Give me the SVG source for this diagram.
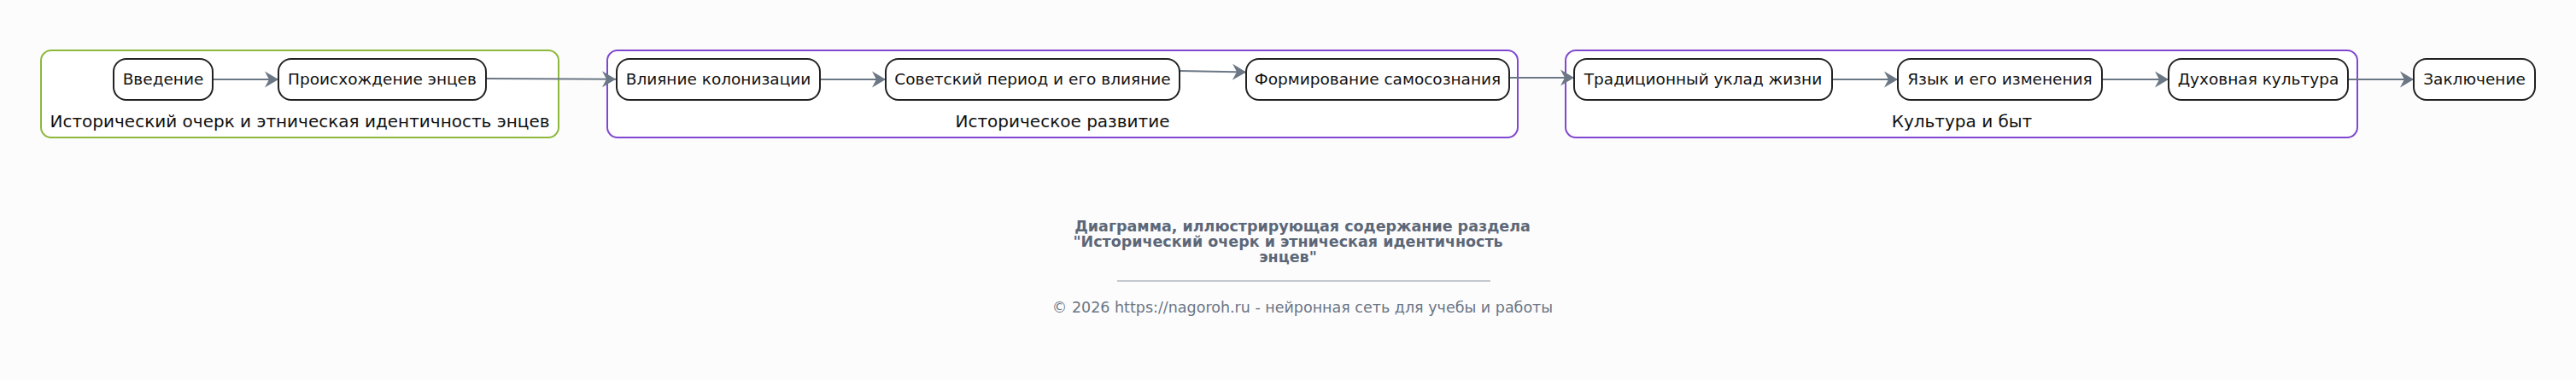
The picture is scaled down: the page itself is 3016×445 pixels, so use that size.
<svg xmlns="http://www.w3.org/2000/svg" width="3016" height="445" viewBox="0 0 3016 445">
<style>
.bg{fill:#fcfcfc}
.grp{fill:#ffffff;stroke-width:2}
.g-green{stroke:#8db83c}
.g-purple{stroke:#8048d0}
.node rect{fill:#ffffff;stroke:#222222;stroke-width:2}
.lbl{font-family:"DejaVu Sans",sans-serif;font-size:18.5px;fill:#111111;text-anchor:middle}
.glbl{font-family:"DejaVu Sans",sans-serif;font-size:20px;fill:#111111;text-anchor:middle}
.edge{stroke:#6b7785;stroke-width:2;fill:none;marker-end:url(#arr)}
.title{font-family:"DejaVu Sans",sans-serif;font-size:17.5px;font-weight:bold;fill:#5c6778;text-anchor:middle}
.copy{font-family:"DejaVu Sans",sans-serif;font-size:17.5px;fill:#6a7585;text-anchor:middle}
</style>
<defs>
<marker id="arr" markerUnits="userSpaceOnUse" markerWidth="20" markerHeight="22" viewBox="-17 -11 18 22" refX="0" refY="0" orient="auto">
<path d="M0,0 L-16,-9.5 L-11,0 L-16,9.5 Z" fill="#6b7785"/>
</marker>
</defs>
<rect class="bg" x="0" y="0" width="3016" height="445"/>
<g id="group-history">
<rect class="grp g-green" x="48" y="59" width="606" height="102" rx="12"/>
<text class="glbl" x="351" y="148.5">Исторический очерк и этническая идентичность энцев</text>
</g>
<g id="group-development">
<rect class="grp g-purple" x="711" y="59" width="1066" height="102" rx="12"/>
<text class="glbl" x="1244" y="148.5">Историческое развитие</text>
</g>
<g id="group-culture">
<rect class="grp g-purple" x="1833" y="59" width="927" height="102" rx="12"/>
<text class="glbl" x="2297" y="148.5">Культура и быт</text>
</g>
<g id="connectors">
<path class="edge" d="M249,93 L326,93"/>
<path class="edge" d="M569,92 L721,92.7"/>
<path class="edge" d="M960,93 L1037,93"/>
<path class="edge" d="M1381,83 L1459,84.5"/>
<path class="edge" d="M1767,91 L1843,91"/>
<path class="edge" d="M2145,93 L2222,93"/>
<path class="edge" d="M2461,93 L2539,93"/>
<path class="edge" d="M2749,93 L2826,93"/>
</g>
<g id="node-intro" class="node"><rect x="133" y="69" width="116" height="48" rx="15"/><text class="lbl" x="191" y="99">Введение</text></g>
<g id="node-origin" class="node"><rect x="326" y="69" width="243" height="48" rx="15"/><text class="lbl" x="447.5" y="99">Происхождение энцев</text></g>
<g id="node-colonization" class="node"><rect x="722" y="69" width="238" height="48" rx="15"/><text class="lbl" x="841" y="99">Влияние колонизации</text></g>
<g id="node-soviet" class="node"><rect x="1037" y="69" width="344" height="48" rx="15"/><text class="lbl" x="1209" y="99">Советский период и его влияние</text></g>
<g id="node-identity" class="node"><rect x="1459" y="69" width="308" height="48" rx="15"/><text class="lbl" x="1613" y="99">Формирование самосознания</text></g>
<g id="node-traditional" class="node"><rect x="1843" y="69" width="302" height="48" rx="15"/><text class="lbl" x="1994" y="99">Традиционный уклад жизни</text></g>
<g id="node-language" class="node"><rect x="2222" y="69" width="239" height="48" rx="15"/><text class="lbl" x="2341.5" y="99">Язык и его изменения</text></g>
<g id="node-spiritual" class="node"><rect x="2539" y="69" width="210" height="48" rx="15"/><text class="lbl" x="2644" y="99">Духовная культура</text></g>
<g id="node-conclusion" class="node"><rect x="2826" y="69" width="142" height="48" rx="15"/><text class="lbl" x="2897" y="99">Заключение</text></g>
<g id="caption">
<text class="title" x="1525" y="271">Диаграмма, иллюстрирующая содержание раздела</text>
<text class="title" x="1508" y="289">"Исторический очерк и этническая идентичность </text>
<text class="title" x="1508" y="307">энцев"</text>
<line x1="1308" y1="329" x2="1745" y2="329" stroke="#8a93a0" stroke-width="1"/>
<text class="copy" x="1525" y="366">© 2026 https://nagoroh.ru - нейронная сеть для учебы и работы</text>
</g>
</svg>
